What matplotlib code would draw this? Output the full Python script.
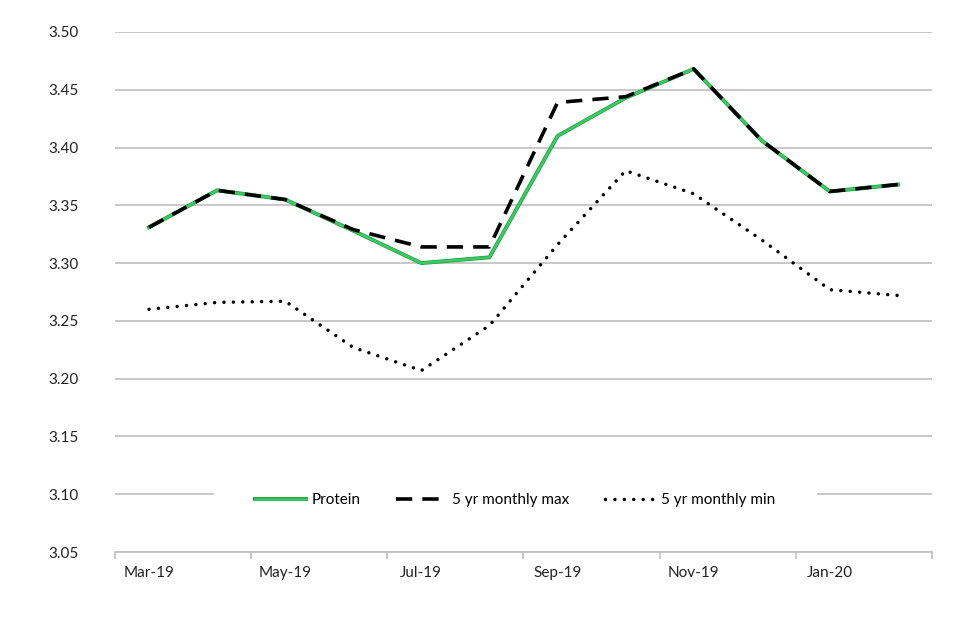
import numpy as np
import matplotlib
matplotlib.use("Agg")
import matplotlib.pyplot as plt
import matplotlib.patheffects as pe

months = ["Mar-19", "Apr-19", "May-19", "Jun-19", "Jul-19", "Aug-19",
          "Sep-19", "Oct-19", "Nov-19", "Dec-19", "Jan-20", "Feb-20"]
protein = [3.331, 3.363, 3.355, 3.328, 3.300, 3.305,
           3.410, 3.443, 3.468, 3.406, 3.362, 3.368]
max_5yr = [3.331, 3.363, 3.355, 3.329, 3.314, 3.314,
           3.439, 3.444, 3.468, 3.406, 3.362, 3.368]
min_5yr = [3.260, 3.266, 3.267, 3.227, 3.207, 3.246,
           3.316, 3.380, 3.360, 3.320, 3.277, 3.272]
y_ticks = [3.05, 3.10, 3.15, 3.20, 3.25, 3.30, 3.35, 3.40, 3.45, 3.50]

plt.rcParams['font.family'] = ['Lato', 'DejaVu Sans']

fig = plt.figure(figsize=(9.6, 6.4), dpi=100)
ax = fig.add_axes([0.1198, 0.1375, 0.8510, 0.8125])

x = np.arange(len(months))

ax.plot(x, protein, color='#3CCB63', lw=1.8, zorder=3, label='Protein',
        path_effects=[pe.Stroke(linewidth=2.8, foreground='#1F9A42'), pe.Normal()])
ax.plot(x, max_5yr, color='black', lw=2.6, zorder=4, label='5 yr monthly max',
        dashes=(4.5, 2.8))
ax.plot(x, min_5yr, color='black', lw=2.5, zorder=4, label='5 yr monthly min',
        linestyle=(0, (0.01, 2.7)), dash_capstyle='round')

ax.set_xlim(-0.5, len(months) - 0.5)
ax.set_ylim(3.05, 3.50)
ax.set_yticks(y_ticks)
ax.set_yticklabels([f"{v:.2f}" for v in y_ticks])
ax.yaxis.grid(True, color='#BFBFBF', lw=1.2, zorder=0)
ax.set_axisbelow(True)

ax.set_xticks(x[::2])
ax.set_xticklabels(months[::2])
ax.set_xticks(np.arange(-0.5, len(months), 2), minor=True)
ax.tick_params(axis='x', which='major', length=0, pad=10, labelsize=11, colors='#222222')
ax.tick_params(axis='x', which='minor', length=5, color='#BFBFBF', width=1.2)
ax.tick_params(axis='y', length=0, pad=26, labelsize=11, colors='#222222')

for s in ['top', 'right', 'left']:
    ax.spines[s].set_visible(False)
ax.spines['bottom'].set_color('#BFBFBF')
ax.spines['bottom'].set_linewidth(1.2)

leg = ax.legend(loc='center', bbox_to_anchor=(0.49, 0.10), ncol=3, frameon=True,
                fontsize=11, handlelength=3.3, columnspacing=2.3, borderpad=2.7,
                borderaxespad=0, handletextpad=0.4)
frame = leg.get_frame()
frame.set_facecolor('white')
frame.set_edgecolor('white')
frame.set_alpha(1)
frame.set_linewidth(0)
leg.set_zorder(5)

plt.savefig('out.png', dpi=100)
